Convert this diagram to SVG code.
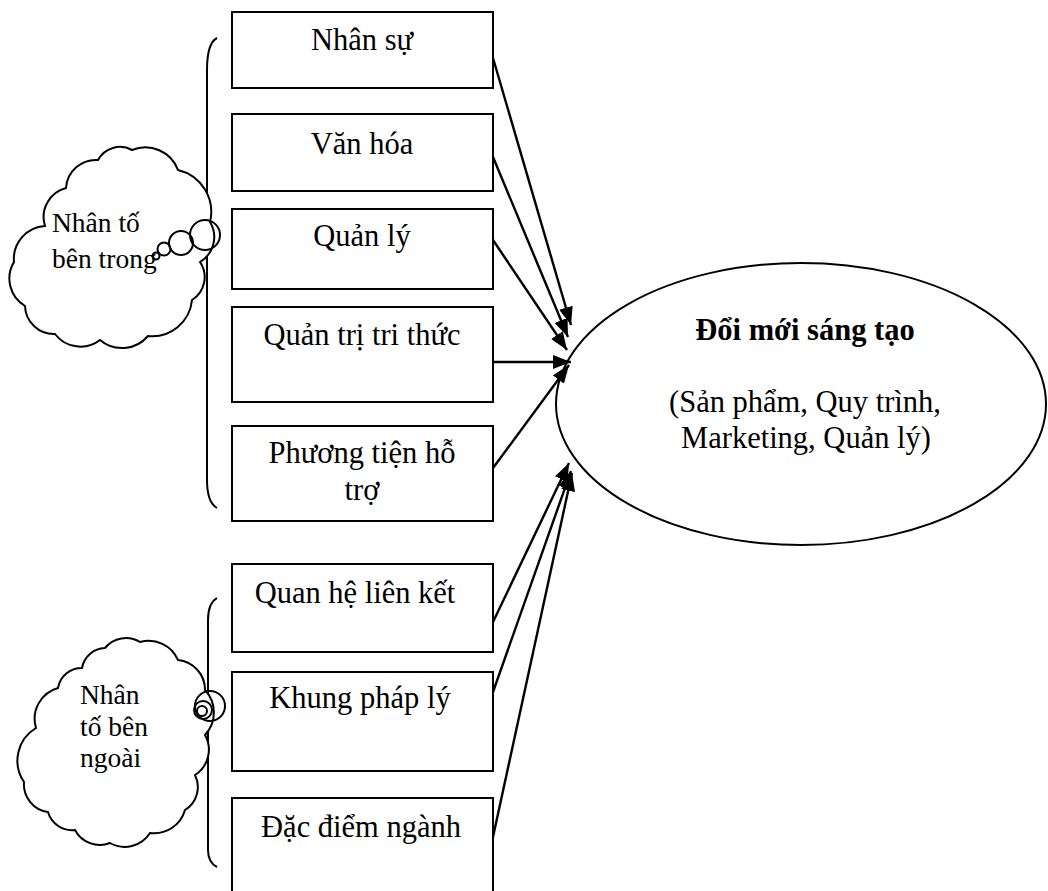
<svg xmlns="http://www.w3.org/2000/svg" width="1048" height="891" viewBox="0 0 1048 891">
<style>
.box{fill:#fff;stroke:#000;stroke-width:2}
.t{font-family:"Liberation Serif","Times New Roman",serif;font-size:30.5px;fill:#000;text-anchor:middle}
.ct{font-family:"Liberation Serif","Times New Roman",serif;font-size:27.5px;fill:#000}
.cloud{fill:#fff;stroke:#000;stroke-width:2}
.brace{fill:none;stroke:#000;stroke-width:2}
.bub{fill:none;stroke:#000;stroke-width:2}
.arr{stroke:#000;stroke-width:2.4;fill:none;marker-end:url(#ah)}
</style>
<defs>
<marker id="ah" markerUnits="userSpaceOnUse" markerWidth="20" markerHeight="16" refX="18" refY="7" orient="auto">
<path d="M0,0 L18,7 L0,14 Z" fill="#000"/>
</marker>
</defs>
<rect width="1048" height="891" fill="#fff"/>

<g id="brace-inner">
<path class="brace" d="M217,38 C209,42 207,55 207,70 L207,480 C207,495 210,504 217,508"/>
</g>
<g id="brace-outer">
<path class="brace" d="M217,598 C210,602 208,610 208,620 L208,850 C208,858 211,864 217,867"/>
</g>

<g id="cloud-inner">
<path class="cloud" d="M14,262 A33,33 0 0 1 45,226 A30,30 0 0 1 66,188 A30,30 0 0 1 98,160 A25,25 0 0 1 132,150 A35,35 0 0 1 178,170 A43,43 0 0 1 210,222 A29,29 0 0 1 200,262 A27,27 0 0 1 192,300 A40,40 0 0 1 148,336 A34,34 0 0 1 100,340 A32,32 0 0 1 55,334 A29,29 0 0 1 25,306 A32,32 0 0 1 14,262 Z"/>
<circle class="bub" cx="205" cy="235" r="15"/>
<circle class="bub" cx="181" cy="243" r="12"/>
<circle class="bub" cx="164" cy="249" r="6.5"/>
<circle class="bub" cx="156" cy="256" r="3.5"/>
<text class="ct" x="52" y="232">Nhân tố</text>
<text class="ct" x="52" y="268">bên trong</text>
</g>

<g id="cloud-outer">
<path class="cloud" d="M24,782 A38,38 0 0 1 36,728 A32,32 0 0 1 58,688 A24,24 0 0 1 82,668 A24,24 0 0 1 105,648 A27,27 0 0 1 140,642 A32,32 0 0 1 178,660 A30,30 0 0 1 205,690 A33,33 0 0 1 205,735 A30,30 0 0 1 195,775 A27,27 0 0 1 185,810 A32,32 0 0 1 150,833 A30,30 0 0 1 110,843 A28,28 0 0 1 75,830 A25,25 0 0 1 48,812 A28,28 0 0 1 24,782 Z"/>
<circle class="bub" cx="210" cy="706" r="15"/>
<circle class="bub" cx="203" cy="710" r="9"/>
<circle class="bub" cx="202" cy="711" r="5"/>
<text class="ct" x="80" y="704">Nhân</text>
<text class="ct" x="80" y="736">tố bên</text>
<text class="ct" x="80" y="767">ngoài</text>
</g>

<g id="node-nhansu">
<rect class="box" x="232" y="12" width="261" height="76"/>
<text class="t" x="362" y="50">Nhân sự</text>
</g>
<g id="node-vanhoa">
<rect class="box" x="232" y="114" width="261" height="77"/>
<text class="t" x="362" y="154">Văn hóa</text>
</g>
<g id="node-quanly">
<rect class="box" x="232" y="209" width="261" height="80"/>
<text class="t" x="362" y="246">Quản lý</text>
</g>
<g id="node-quantri">
<rect class="box" x="232" y="307" width="261" height="95"/>
<text class="t" x="362" y="345">Quản trị tri thức</text>
</g>
<g id="node-phuongtien">
<rect class="box" x="232" y="426" width="261" height="95"/>
<text class="t" x="362" y="463">Phương tiện hỗ</text>
<text class="t" x="362" y="500">trợ</text>
</g>
<g id="node-quanhe">
<rect class="box" x="232" y="564" width="261" height="88"/>
<text class="t" x="355" y="603">Quan hệ liên kết</text>
</g>
<g id="node-khung">
<rect class="box" x="232" y="672" width="261" height="99"/>
<text class="t" x="360" y="708">Khung pháp lý</text>
</g>
<g id="node-dacdiem">
<rect class="box" x="232" y="798" width="261" height="100"/>
<text class="t" x="361" y="837">Đặc điểm ngành</text>
</g>

<g id="node-doimoi">
<ellipse cx="801" cy="404" rx="245" ry="141" fill="#fff" stroke="#000" stroke-width="2"/>
<text class="t" x="805" y="340" font-weight="bold">Đổi mới sáng tạo</text>
<text class="t" x="805" y="412">(Sản phẩm, Quy trình,</text>
<text class="t" x="806" y="448">Marketing, Quản lý)</text>
</g>

<g id="connectors">
<line class="arr" x1="493" y1="58" x2="571" y2="325"/>
<line class="arr" x1="493" y1="157" x2="568" y2="337"/>
<line class="arr" x1="493" y1="240" x2="567" y2="350"/>
<line class="arr" x1="493" y1="362" x2="571" y2="362"/>
<line class="arr" x1="493" y1="468" x2="569" y2="365"/>
<line class="arr" x1="493" y1="622" x2="569" y2="463"/>
<line class="arr" x1="493" y1="692" x2="571" y2="471"/>
<line class="arr" x1="493" y1="837" x2="572" y2="473"/>
</g>
</svg>
